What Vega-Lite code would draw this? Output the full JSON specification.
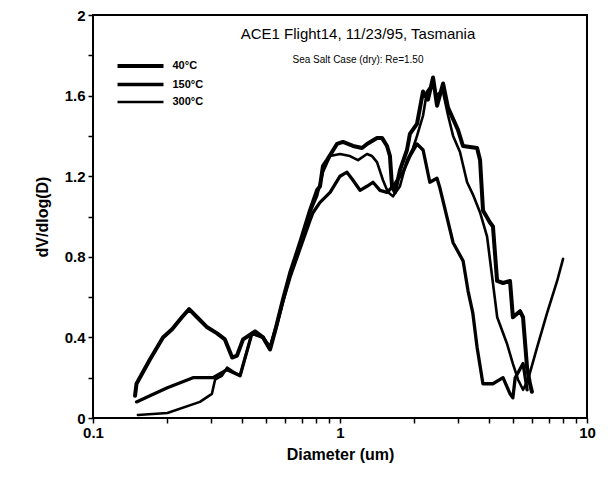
{
  "$schema": "https://vega.github.io/schema/vega-lite/v6.json",
  "width": 494,
  "height": 403,
  "autosize": {"type": "none"},
  "padding": {"left": 93, "top": 15, "right": 21, "bottom": 65},
  "background": "white",
  "config": {
    "view": {"stroke": "black", "strokeWidth": 2},
    "font": "Liberation Sans",
    "axis": {"domain": false, "grid": false, "tickColor": "black", "labelColor": "black", "titleColor": "black", "labelFont": "Liberation Sans", "labelFontWeight": "bold", "labelFontSize": 15, "titleFont": "Liberation Sans", "titleFontWeight": "bold", "titleFontSize": 16, "labelOverlap": false, "labelFlush": false}
  },
  "title": {
    "text": "ACE1 Flight14, 11/23/95, Tasmania",
    "subtitle": "Sea Salt Case (dry): Re=1.50",
    "offset": -57,
    "dx": 18,
    "fontSize": 15,
    "fontWeight": "normal",
    "font": "Liberation Sans",
    "color": "black",
    "subtitleFontSize": 10,
    "subtitleFont": "Liberation Sans",
    "subtitleColor": "black",
    "subtitlePadding": 13
  },
  "data": {
    "values": [
      {"temp": "40°C", "d": 0.148, "v": 0.11},
      {"temp": "40°C", "d": 0.150, "v": 0.17},
      {"temp": "40°C", "d": 0.170, "v": 0.29},
      {"temp": "40°C", "d": 0.192, "v": 0.40},
      {"temp": "40°C", "d": 0.209, "v": 0.44},
      {"temp": "40°C", "d": 0.229, "v": 0.50},
      {"temp": "40°C", "d": 0.245, "v": 0.54},
      {"temp": "40°C", "d": 0.264, "v": 0.50},
      {"temp": "40°C", "d": 0.290, "v": 0.45},
      {"temp": "40°C", "d": 0.318, "v": 0.42},
      {"temp": "40°C", "d": 0.342, "v": 0.39},
      {"temp": "40°C", "d": 0.366, "v": 0.30},
      {"temp": "40°C", "d": 0.383, "v": 0.31},
      {"temp": "40°C", "d": 0.405, "v": 0.39},
      {"temp": "40°C", "d": 0.453, "v": 0.43},
      {"temp": "40°C", "d": 0.488, "v": 0.40},
      {"temp": "40°C", "d": 0.521, "v": 0.34},
      {"temp": "40°C", "d": 0.551, "v": 0.45},
      {"temp": "40°C", "d": 0.588, "v": 0.59},
      {"temp": "40°C", "d": 0.628, "v": 0.72},
      {"temp": "40°C", "d": 0.689, "v": 0.87},
      {"temp": "40°C", "d": 0.756, "v": 1.03},
      {"temp": "40°C", "d": 0.807, "v": 1.13},
      {"temp": "40°C", "d": 0.830, "v": 1.15},
      {"temp": "40°C", "d": 0.853, "v": 1.25},
      {"temp": "40°C", "d": 0.886, "v": 1.28},
      {"temp": "40°C", "d": 0.972, "v": 1.36},
      {"temp": "40°C", "d": 1.028, "v": 1.37},
      {"temp": "40°C", "d": 1.129, "v": 1.35},
      {"temp": "40°C", "d": 1.228, "v": 1.34},
      {"temp": "40°C", "d": 1.286, "v": 1.36},
      {"temp": "40°C", "d": 1.412, "v": 1.39},
      {"temp": "40°C", "d": 1.479, "v": 1.39},
      {"temp": "40°C", "d": 1.550, "v": 1.35},
      {"temp": "40°C", "d": 1.593, "v": 1.30},
      {"temp": "40°C", "d": 1.624, "v": 1.15},
      {"temp": "40°C", "d": 1.670, "v": 1.12},
      {"temp": "40°C", "d": 1.749, "v": 1.23},
      {"temp": "40°C", "d": 1.867, "v": 1.33},
      {"temp": "40°C", "d": 1.919, "v": 1.41},
      {"temp": "40°C", "d": 2.050, "v": 1.46},
      {"temp": "40°C", "d": 2.168, "v": 1.62},
      {"temp": "40°C", "d": 2.271, "v": 1.58},
      {"temp": "40°C", "d": 2.381, "v": 1.69},
      {"temp": "40°C", "d": 2.471, "v": 1.55},
      {"temp": "40°C", "d": 2.614, "v": 1.66},
      {"temp": "40°C", "d": 2.737, "v": 1.54},
      {"temp": "40°C", "d": 3.004, "v": 1.43},
      {"temp": "40°C", "d": 3.147, "v": 1.35},
      {"temp": "40°C", "d": 3.589, "v": 1.34},
      {"temp": "40°C", "d": 3.690, "v": 1.28},
      {"temp": "40°C", "d": 3.793, "v": 1.03},
      {"temp": "40°C", "d": 4.046, "v": 0.97},
      {"temp": "40°C", "d": 4.162, "v": 0.95},
      {"temp": "40°C", "d": 4.325, "v": 0.68},
      {"temp": "40°C", "d": 4.571, "v": 0.67},
      {"temp": "40°C", "d": 4.878, "v": 0.68},
      {"temp": "40°C", "d": 5.012, "v": 0.50},
      {"temp": "40°C", "d": 5.357, "v": 0.53},
      {"temp": "40°C", "d": 5.508, "v": 0.50},
      {"temp": "40°C", "d": 5.719, "v": 0.25},
      {"temp": "40°C", "d": 5.877, "v": 0.17},
      {"temp": "40°C", "d": 5.984, "v": 0.13},

      {"temp": "150°C", "d": 0.150, "v": 0.08},
      {"temp": "150°C", "d": 0.170, "v": 0.11},
      {"temp": "150°C", "d": 0.200, "v": 0.15},
      {"temp": "150°C", "d": 0.254, "v": 0.20},
      {"temp": "150°C", "d": 0.306, "v": 0.20},
      {"temp": "150°C", "d": 0.349, "v": 0.24},
      {"temp": "150°C", "d": 0.394, "v": 0.21},
      {"temp": "150°C", "d": 0.440, "v": 0.42},
      {"temp": "150°C", "d": 0.488, "v": 0.40},
      {"temp": "150°C", "d": 0.521, "v": 0.35},
      {"temp": "150°C", "d": 0.551, "v": 0.45},
      {"temp": "150°C", "d": 0.588, "v": 0.58},
      {"temp": "150°C", "d": 0.628, "v": 0.70},
      {"temp": "150°C", "d": 0.689, "v": 0.84},
      {"temp": "150°C", "d": 0.756, "v": 0.98},
      {"temp": "150°C", "d": 0.778, "v": 1.02},
      {"temp": "150°C", "d": 0.830, "v": 1.07},
      {"temp": "150°C", "d": 0.912, "v": 1.12},
      {"temp": "150°C", "d": 1.000, "v": 1.20},
      {"temp": "150°C", "d": 1.067, "v": 1.22},
      {"temp": "150°C", "d": 1.129, "v": 1.18},
      {"temp": "150°C", "d": 1.205, "v": 1.13},
      {"temp": "150°C", "d": 1.286, "v": 1.15},
      {"temp": "150°C", "d": 1.360, "v": 1.17},
      {"temp": "150°C", "d": 1.452, "v": 1.13},
      {"temp": "150°C", "d": 1.550, "v": 1.12},
      {"temp": "150°C", "d": 1.639, "v": 1.15},
      {"temp": "150°C", "d": 1.799, "v": 1.22},
      {"temp": "150°C", "d": 1.919, "v": 1.30},
      {"temp": "150°C", "d": 2.050, "v": 1.36},
      {"temp": "150°C", "d": 2.170, "v": 1.33},
      {"temp": "150°C", "d": 2.310, "v": 1.17},
      {"temp": "150°C", "d": 2.470, "v": 1.19},
      {"temp": "150°C", "d": 2.540, "v": 1.14},
      {"temp": "150°C", "d": 2.870, "v": 0.87},
      {"temp": "150°C", "d": 3.150, "v": 0.78},
      {"temp": "150°C", "d": 3.300, "v": 0.63},
      {"temp": "150°C", "d": 3.450, "v": 0.52},
      {"temp": "150°C", "d": 3.590, "v": 0.35},
      {"temp": "150°C", "d": 3.790, "v": 0.17},
      {"temp": "150°C", "d": 4.160, "v": 0.17},
      {"temp": "150°C", "d": 4.570, "v": 0.20},
      {"temp": "150°C", "d": 4.880, "v": 0.12},
      {"temp": "150°C", "d": 5.010, "v": 0.10},
      {"temp": "150°C", "d": 5.120, "v": 0.20},
      {"temp": "150°C", "d": 5.510, "v": 0.27},
      {"temp": "150°C", "d": 5.720, "v": 0.14},

      {"temp": "300°C", "d": 0.152, "v": 0.015},
      {"temp": "300°C", "d": 0.200, "v": 0.025},
      {"temp": "300°C", "d": 0.271, "v": 0.08},
      {"temp": "300°C", "d": 0.303, "v": 0.12},
      {"temp": "300°C", "d": 0.312, "v": 0.19},
      {"temp": "300°C", "d": 0.333, "v": 0.21},
      {"temp": "300°C", "d": 0.349, "v": 0.25},
      {"temp": "300°C", "d": 0.369, "v": 0.23},
      {"temp": "300°C", "d": 0.394, "v": 0.21},
      {"temp": "300°C", "d": 0.440, "v": 0.42},
      {"temp": "300°C", "d": 0.488, "v": 0.40},
      {"temp": "300°C", "d": 0.521, "v": 0.35},
      {"temp": "300°C", "d": 0.551, "v": 0.45},
      {"temp": "300°C", "d": 0.588, "v": 0.58},
      {"temp": "300°C", "d": 0.628, "v": 0.71},
      {"temp": "300°C", "d": 0.689, "v": 0.86},
      {"temp": "300°C", "d": 0.756, "v": 1.02},
      {"temp": "300°C", "d": 0.807, "v": 1.10},
      {"temp": "300°C", "d": 0.853, "v": 1.22},
      {"temp": "300°C", "d": 0.912, "v": 1.30},
      {"temp": "300°C", "d": 1.000, "v": 1.31},
      {"temp": "300°C", "d": 1.097, "v": 1.30},
      {"temp": "300°C", "d": 1.183, "v": 1.28},
      {"temp": "300°C", "d": 1.286, "v": 1.31},
      {"temp": "300°C", "d": 1.348, "v": 1.30},
      {"temp": "300°C", "d": 1.412, "v": 1.27},
      {"temp": "300°C", "d": 1.493, "v": 1.18},
      {"temp": "300°C", "d": 1.564, "v": 1.12},
      {"temp": "300°C", "d": 1.639, "v": 1.10},
      {"temp": "300°C", "d": 1.749, "v": 1.15},
      {"temp": "300°C", "d": 1.867, "v": 1.28},
      {"temp": "300°C", "d": 1.976, "v": 1.34},
      {"temp": "300°C", "d": 2.050, "v": 1.40},
      {"temp": "300°C", "d": 2.168, "v": 1.50},
      {"temp": "300°C", "d": 2.250, "v": 1.62},
      {"temp": "300°C", "d": 2.380, "v": 1.66},
      {"temp": "300°C", "d": 2.470, "v": 1.60},
      {"temp": "300°C", "d": 2.600, "v": 1.63},
      {"temp": "300°C", "d": 2.740, "v": 1.50},
      {"temp": "300°C", "d": 2.870, "v": 1.40},
      {"temp": "300°C", "d": 3.060, "v": 1.32},
      {"temp": "300°C", "d": 3.270, "v": 1.17},
      {"temp": "300°C", "d": 3.450, "v": 1.11},
      {"temp": "300°C", "d": 3.690, "v": 1.02},
      {"temp": "300°C", "d": 3.940, "v": 0.90},
      {"temp": "300°C", "d": 4.160, "v": 0.67},
      {"temp": "300°C", "d": 4.330, "v": 0.50},
      {"temp": "300°C", "d": 4.740, "v": 0.37},
      {"temp": "300°C", "d": 5.010, "v": 0.27},
      {"temp": "300°C", "d": 5.260, "v": 0.19},
      {"temp": "300°C", "d": 5.510, "v": 0.14},
      {"temp": "300°C", "d": 5.770, "v": 0.19},
      {"temp": "300°C", "d": 6.280, "v": 0.35},
      {"temp": "300°C", "d": 6.890, "v": 0.52},
      {"temp": "300°C", "d": 7.570, "v": 0.68},
      {"temp": "300°C", "d": 8.000, "v": 0.79}
    ]
  },
  "mark": {"type": "line", "color": "black", "strokeJoin": "round", "strokeCap": "round"},
  "encoding": {
    "x": {
      "field": "d", "type": "quantitative",
      "scale": {"type": "log", "domain": [0.1, 10], "nice": false},
      "axis": {
        "title": "Diameter (um)",
        "values": [0.1, 0.2, 0.3, 0.4, 0.5, 0.6, 0.7, 0.8, 0.9, 1, 2, 3, 4, 5, 6, 7, 8, 9, 10],
        "labelExpr": "datum.value < 0.15 ? '0.1' : (abs(datum.value - 1) < 0.01 ? '1' : (datum.value > 9.5 ? '10' : ''))",
        "tickSize": 5,
        "tickWidth": 1.5,
        "labelPadding": 2,
        "titlePadding": 6
      }
    },
    "y": {
      "field": "v", "type": "quantitative",
      "scale": {"domain": [0, 2], "nice": false},
      "axis": {
        "title": "dV/dlog(D)",
        "values": [0, 0.2, 0.4, 0.6, 0.8, 1.0, 1.2, 1.4, 1.6, 1.8, 2.0],
        "labelExpr": "(round(datum.value * 10) % 4 == 0) ? (datum.value == 0 ? '0' : format(datum.value, '.1~f')) : ''",
        "tickSize": 5,
        "tickWidth": 1.5,
        "labelPadding": 3,
        "titlePadding": 14
      }
    },
    "strokeWidth": {
      "field": "temp", "type": "nominal",
      "scale": {"domain": ["40°C", "150°C", "300°C"], "range": [4, 2.6, 1.3]},
      "legend": {
        "title": null,
        "orient": "none",
        "legendX": 37.5,
        "legendY": 41,
        "symbolType": "M-3,0H3",
        "symbolSize": 235,
        "symbolStrokeColor": "black",
        "labelFontSize": 11,
        "labelFontWeight": "bold",
        "labelFont": "Liberation Sans",
        "labelColor": "black",
        "labelOffset": 22,
        "rowPadding": 1
      }
    }
  }
}
